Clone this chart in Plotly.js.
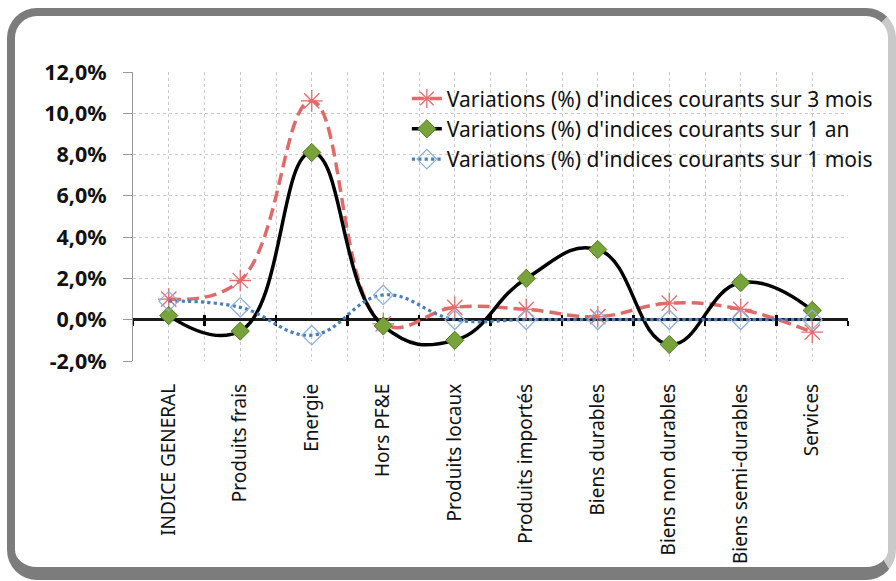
<!DOCTYPE html>
<html>
<head>
<meta charset="utf-8">
<script src="https://cdn.plot.ly/plotly-3.0.1.min.js"></script>
<style>
  html, body { margin:0; padding:0; background:#ffffff; overflow:hidden; }
  #frame { position:absolute; left:7px; top:8px; width:873px; height:551px;
           border:8px solid #7c7c7c; border-bottom-width:13px; border-right-color:#c9c9c9;
           border-radius:30px; background:#ffffff; }
  #chart { position:absolute; left:0; top:0; width:896px; height:581px; }
</style>
</head>
<body>
<div id="frame"></div>
<div id="chart"></div>
<script>
const categories = ["INDICE GENERAL", "Produits frais", "Energie", "Hors PF&E", "Produits locaux",
                    "Produits importés", "Biens durables", "Biens non durables", "Biens semi-durables", "Services"];
const seriesNames = ["Variations (%) d'indices courants sur 3 mois",
                     "Variations (%) d'indices courants sur 1 an",
                     "Variations (%) d'indices courants sur 1 mois"];
const var3mois = [1.0, 1.9, 10.6, -0.2, 0.6, 0.5, 0.15, 0.8, 0.5, -0.6];
const var1an   = [0.2, -0.55, 8.1, -0.3, -1.0, 2.0, 3.4, -1.2, 1.8, 0.45];
const var1mois = [0.9, 0.6, -0.75, 1.2, 0.0, 0.0, 0.0, 0.0, 0.0, 0.0];
const yTicks = [-2, 0, 2, 4, 6, 8, 10, 12];
const yTickText = yTicks.map(v => v.toFixed(1).replace(".", ",") + "%");

const font = "Noto Sans, Open Sans, DejaVu Sans, sans-serif";

const traces = [
  {
    x: categories, y: var3mois, name: seriesNames[0], type: "scatter", mode: "lines+markers",
    xaxis: "x", yaxis: "y", legendgroup: "a",
    line: { color: "#e06a6a", width: 3.5, dash: "12px,6px", shape: "spline", smoothing: 1.2 },
    marker: { symbol: "asterisk-open", size: 18, color: "#e46c6c", line: { color: "#e46c6c", width: 1.3 } }
  },
  {
    x: categories, y: var1an, name: seriesNames[1], type: "scatter", mode: "lines+markers",
    xaxis: "x2", yaxis: "y", legendgroup: "b",
    line: { color: "#000000", width: 3.5, shape: "spline", smoothing: 1.3 },
    marker: { symbol: "diamond", size: 14, color: "#77a33a", line: { color: "#4f7a22", width: 1 } }
  },
  {
    x: categories, y: var1mois, name: seriesNames[2], type: "scatter", mode: "lines+markers",
    xaxis: "x3", yaxis: "y", legendgroup: "c",
    line: { color: "#4a7ebb", width: 3.2, dash: "dot", shape: "spline", smoothing: 1.2 },
    marker: { symbol: "diamond-open", size: 15, color: "#8fb0d8", line: { color: "#8fb0d8", width: 1.3 } }
  }
];

const gridStyle = { gridcolor: "#c8c8c8", griddash: "dot", gridwidth: 1 };

const layout = {
  width: 896, height: 581,
  paper_bgcolor: "rgba(0,0,0,0)", plot_bgcolor: "rgba(0,0,0,0)",
  margin: { l: 133, r: 48, t: 72, b: 220 },
  font: { family: font, color: "#111111" },
  showlegend: true,
  legend: {
    x: 0.383, y: 0.978, xanchor: "left", yanchor: "top",
    bgcolor: "rgba(0,0,0,0)", tracegroupgap: 0,
    font: { family: font, size: 21, color: "#111111" }
  },
  xaxis: Object.assign({
    type: "category", range: [-0.5, 9.5],
    showgrid: true, showline: false, zeroline: false, ticks: "",
    tickangle: -90, ticklabelstandoff: 18,
    tickfont: { family: font, size: 19, color: "#111111" }
  }, gridStyle),
  xaxis2: Object.assign({
    overlaying: "x", anchor: "free", position: 2 / 14, side: "bottom",
    type: "category", range: [-0.5, 9.5], tickson: "boundaries",
    showticklabels: false, ticks: "inside", ticklen: 5, tickwidth: 2.5, tickcolor: "#000000",
    showgrid: true, showline: false, zeroline: false, layer: "below traces"
  }, gridStyle),
  xaxis3: {
    overlaying: "x", anchor: "free", position: 2 / 14, side: "bottom",
    type: "category", range: [-0.5, 9.5], tickson: "boundaries",
    showticklabels: false, ticks: "outside", ticklen: 5, tickwidth: 2.5, tickcolor: "#000000",
    showgrid: false, showline: false, zeroline: false, layer: "below traces"
  },
  yaxis: Object.assign({
    range: [-2, 12], tickvals: yTicks, ticktext: yTickText,
    showgrid: true,
    zeroline: true, zerolinecolor: "#1a1a1a", zerolinewidth: 3,
    showline: true, linecolor: "#9a9a9a", linewidth: 1,
    ticks: "outside", ticklen: 9, tickcolor: "#9a9a9a", tickwidth: 1,
    ticklabelstandoff: 12,
    tickfont: { family: font, size: 21.5, color: "#111111", weight: "bold" }
  }, gridStyle)
};

Plotly.newPlot("chart", traces, layout, { displayModeBar: false, staticPlot: true });
</script>
</body>
</html>
